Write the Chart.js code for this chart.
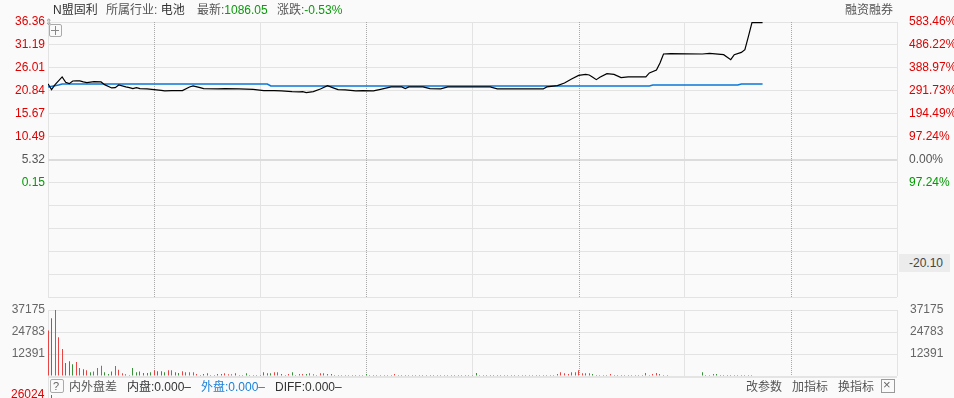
<!DOCTYPE html>
<html><head><meta charset="utf-8">
<script src="https://cdn.jsdelivr.net/npm/chart.js@4/dist/chart.umd.min.js"></script>
<style>
html,body{margin:0;padding:0;background:#fafafa;}
#wrap{position:relative;width:954px;height:398px;overflow:hidden;background:#fafafa;font-family:"Liberation Sans",Arial,"Noto Sans CJK SC",sans-serif;font-size:12px;color:#555;}
canvas{position:absolute;left:0;top:0;}
.t{position:absolute;white-space:nowrap;line-height:14px;}
</style></head><body>
<div id="wrap">
<canvas id="pc" width="954" height="398" style="width:954px;height:398px"></canvas>
<canvas id="vc" width="954" height="398" style="width:954px;height:398px"></canvas>

<div class="t" style="left:53px;top:3px;color:#333">N盟固利</div>
<div class="t" style="left:106px;top:3px;color:#555">所属行业: <span style="color:#333">电池</span></div>
<div class="t" style="left:197px;top:3px;color:#555">最新:<span style="color:#0a9a0a">1086.05</span></div>
<div class="t" style="left:277px;top:3px;color:#555">涨跌:<span style="color:#0a9a0a">-0.53%</span></div>
<div class="t" style="left:845px;top:3px;color:#555">融资融券</div>

<div class="t" style="left:45px;top:15px;font-size:9px;color:#999">⇕</div>
<div style="position:absolute;left:49px;top:24px;width:11px;height:11px;border:1px solid #aaa;border-radius:2px;background:#fafafa"></div>
<div style="position:absolute;left:51px;top:30px;width:8px;height:1px;background:#888"></div>
<div style="position:absolute;left:55px;top:26px;width:1px;height:9px;background:#888"></div>

<div style="position:absolute;left:899px;top:254px;width:51px;height:18px;background:#ececec"></div>
<div class="t" style="left:909px;top:256px;color:#444">-20.10</div>

<div style="position:absolute;left:48px;top:376px;width:849px;height:2px;background:#e4e4e4"></div>
<div style="position:absolute;left:48px;top:378px;width:1px;height:20px;background:#e2e2e2"></div>
<div style="position:absolute;left:50px;top:379px;width:12px;height:12px;border:1px solid #aaa;border-radius:2px"></div>
<div class="t" style="left:53px;top:379px;color:#666;font-size:11px">?</div>
<div class="t" style="left:69px;top:380px;color:#555">内外盘差</div>
<div class="t" style="left:127px;top:380px;color:#333">内盘:0.000–</div>
<div class="t" style="left:201px;top:380px;color:#1a7fd8">外盘:0.000–</div>
<div class="t" style="left:275px;top:380px;color:#333">DIFF:0.000–</div>
<div class="t" style="left:746px;top:380px;color:#555">改参数</div>
<div class="t" style="left:792px;top:380px;color:#555">加指标</div>
<div class="t" style="left:838px;top:380px;color:#555">换指标</div>
<div style="position:absolute;left:881px;top:379px;width:12px;height:12px;border:1px solid #999"></div>
<div class="t" style="left:883px;top:378px;color:#666;font-size:13px">×</div>
<div class="t" style="left:11px;top:387px;color:#e00000">26024</div>
<div style="position:absolute;left:51px;top:395px;width:1px;height:3px;background:#1a7fd8"></div>
</div>
<script>
// ---- data ----
const timeTicks = [0,30,60,90,120,150,180,210,240];
const priceGrid = [36.36,31.19,26.01,20.84,15.67,10.49,5.32,0.15,-5.02,-10.19,-15.37,-20.54,-25.71];
const priceLabels = ['36.36','31.19','26.01','20.84','15.67','10.49','5.32','0.15'];
const pctLabels = ['583.46%','486.22%','388.97%','291.73%','194.49%','97.24%','0.00%','97.24%'];
const volGrid = [0,12391,24783,37175];
const volLabels = ['','12391','24783','37175'];

const priceMin = [0,1,2,4,5,6,7,8,9,10,11,13,15,16,18,19,20,22,23,24,25,26,28,30,32,33,35,38,40,41,43,44,48,50,54,58,61,64,66,69,71,72,73,75,77,79,81,82,84,87,89,92,94,97,100,101,102,106,108,111,113,125,127,140,141,144,146,148,150,152,153,154,155,156,158,160,162,164,169,170,172,173,174,176,185,187,191,193,194,196,197,198,199,202];
const priceVal = [22.38,21.09,22.22,23.96,22.74,22.45,23.05,23.10,23.05,22.83,22.67,22.90,22.83,22.22,21.48,21.55,22.15,21.70,21.55,21.32,21.55,21.32,21.25,21.09,20.94,20.80,20.87,20.87,21.70,21.93,21.55,21.32,21.25,21.32,21.25,21.16,20.87,20.87,20.80,20.64,20.58,20.64,20.42,20.64,21.25,22.00,21.39,21.09,21.03,20.80,20.87,20.80,21.16,21.70,21.70,21.32,21.70,21.70,21.32,21.25,21.70,21.70,21.25,21.25,21.70,22.00,22.60,23.51,24.32,24.54,24.40,23.90,23.35,23.87,24.70,24.54,23.80,23.96,23.96,24.86,25.53,27.11,29.14,29.21,29.14,29.27,28.98,27.86,28.98,29.50,30.11,33.11,36.20,36.20];

const avgMin = [0,3,4,62,63,170,171,195,196,202];
const avgVal = [21.70,22.15,22.38,22.38,21.93,21.93,22.15,22.15,22.38,22.38];

const vol = [
25650,32560,37175,21790,15270,7380,8360,6630,7900,4440,
3860,3280,2120,2510,4440,5790,2120,1160,2510,5600,
3470,1540,960,580,4440,2120,2510,1740,1740,2120,
3280,2700,2700,2120,3280,3280,2120,1740,2700,2120,
2120,2120,1160,580,1160,1540,580,580,1160,1160,
1540,960,960,1540,580,580,1540,580,580,580,
580,2120,1540,1540,2120,2120,1160,580,1160,2120,
580,1160,1160,1160,1540,960,580,1540,1540,1160,
1160,580,580,580,580,580,580,580,580,580,
1160,580,580,580,580,580,580,580,1160,580,
580,580,580,580,580,580,580,580,580,580,
580,580,580,580,580,580,580,580,580,580,
580,1740,580,580,580,580,580,580,580,580,
580,580,580,580,580,580,580,580,580,580,
580,580,580,580,1160,2120,1540,1160,2120,2120,
3280,1540,1540,1540,1160,580,580,580,580,1160,
580,580,580,580,580,580,580,580,580,1740,
580,1160,1740,1160,580,580,0,0,0,0,
0,0,0,0,0,2120,580,580,1160,1160,
580,580,580,580,580,580,580,580,580,580,
0,0,0];
const volUp = [
1,0,1,1,1,0,0,0,1,1,
0,1,0,1,1,1,0,0,0,1,
1,1,0,0,0,0,0,0,0,0,
1,0,0,0,1,1,0,0,1,1,
1,1,1,0,0,0,0,0,0,0,
1,1,1,0,0,0,0,0,0,0,
0,0,0,0,1,1,0,0,1,0,
1,1,1,0,1,1,1,1,1,1,
0,0,0,1,1,1,0,0,1,1,
0,0,0,1,1,1,1,1,1,0,
0,0,1,1,1,0,0,1,0,0,
1,1,1,1,1,0,0,1,0,0,
1,0,1,1,0,0,0,0,0,1,
1,1,0,1,1,1,1,1,1,1,
1,1,1,1,1,1,1,1,1,1,
1,1,1,1,0,0,1,1,1,1,
0,0,0,1,0,1,1,1,1,1,
1,1,1,1,1,1,0,0,0,0,
0,0,0,0,0,0,0,1,1,0,
0,0,0,0,1,1,1,1,1,1,
0,0,0];

// ---- styles ----
const RED='#e00000', GREEN='#009a00', GRAY='#555';
const GRID='#e3e3e3';
const FONT={family:'"Liberation Sans", Arial, sans-serif', size:12};
const labelColor = i => i < 6 ? RED : (i === 6 ? GRAY : GREEN);

const dotPlugin = {
  id:'dots',
  beforeDatasetsDraw(chart){
    const {ctx, chartArea:a, scales:{x}} = chart;
    ctx.save();
    ctx.strokeStyle='#a8a8a8'; ctx.lineWidth=1; ctx.setLineDash([1,1]);
    timeTicks.filter(v => v % 60 === 30).forEach(v => {
      const px = Math.round(x.getPixelForValue(v)) + 0.5;
      ctx.beginPath(); ctx.moveTo(px, a.top); ctx.lineTo(px, a.bottom); ctx.stroke();
    });
    ctx.restore();
  }
};

function xScale(){
  return {
    type:'linear', min:0, max:240, offset:false,
    afterBuildTicks: s => { s.ticks = timeTicks.map(v => ({value:v})); },
    afterFit: s => { s.height = 0; },
    ticks:{display:false},
    grid:{offset:false, drawTicks:false, color: c => (c.tick && c.tick.value % 60 === 30) ? 'rgba(0,0,0,0)' : GRID},
    border:{display:false}
  };
}

new Chart(document.getElementById('pc'), {
  type:'line',
  data:{datasets:[
    {data: priceMin.map((m,i)=>({x:m, y:priceVal[i]})), borderColor:'#000', borderWidth:1.2, pointRadius:0, tension:0, order:1},
    {data: avgMin.map((m,i)=>({x:m, y:avgVal[i]})), borderColor:'#0a78d7', borderWidth:1.6, pointRadius:0, tension:0, order:2}
  ]},
  options:{
    responsive:false, animation:false, events:[],
    layout:{padding:{top:22, bottom:101, left:0, right:0}},
    plugins:{legend:{display:false}, tooltip:{enabled:false}},
    scales:{
      x: xScale(),
      y:{
        position:'left', min:-25.71, max:36.36,
        afterBuildTicks: s => { s.ticks = priceGrid.map(v => ({value:v})); },
        afterFit: s => { s.width = 48; },
        ticks:{autoSkip:false, padding:3, font:FONT,
          color: c => labelColor(priceGrid.indexOf(c.tick.value)),
          callback: v => priceLabels[priceGrid.indexOf(v)] ?? ''},
        grid:{drawTicks:false,
          color: c => (c.tick && c.tick.value === 5.32) ? '#dcdcdc' : GRID,
          lineWidth: c => (c.tick && c.tick.value === 5.32) ? 2 : 1},
        border:{display:false}
      },
      y2:{
        position:'right', min:-25.71, max:36.36,
        afterBuildTicks: s => { s.ticks = priceGrid.map(v => ({value:v})); },
        afterFit: s => { s.width = 57; },
        ticks:{autoSkip:false, padding:4, font:FONT,
          color: c => labelColor(priceGrid.indexOf(c.tick.value)),
          callback: v => pctLabels[priceGrid.indexOf(v)] ?? ''},
        grid:{display:false},
        border:{display:false}
      }
    }
  },
  plugins:[dotPlugin]
});

const snapBars = {
  id:'snapBars',
  beforeDatasetsDraw(chart){
    chart.getDatasetMeta(0).data.forEach(el => { el.x = Math.floor(el.x) + 0.5; });
  }
};

new Chart(document.getElementById('vc'), {
  type:'bar',
  data:{datasets:[{
    data: vol.map((v,i)=>({x:i, y:v})),
    backgroundColor: volUp.map(u => u ? '#e84444' : '#3a8f3a'),
    borderWidth:0, barThickness:1, inflateAmount:0
  }]},
  options:{
    responsive:false, animation:false, events:[],
    layout:{padding:{top:310, bottom:22, left:0, right:0}},
    plugins:{legend:{display:false}, tooltip:{enabled:false}},
    scales:{
      x: xScale(),
      y:{
        position:'left', min:0, max:37175,
        afterBuildTicks: s => { s.ticks = volGrid.map(v => ({value:v})); },
        afterFit: s => { s.width = 48; },
        ticks:{autoSkip:false, padding:3, font:FONT, color:'#666',
          callback: v => volLabels[volGrid.indexOf(v)] ?? ''},
        grid:{drawTicks:false, color:GRID},
        border:{display:false}
      },
      y2:{
        position:'right', min:0, max:37175,
        afterBuildTicks: s => { s.ticks = volGrid.map(v => ({value:v})); },
        afterFit: s => { s.width = 57; },
        ticks:{autoSkip:false, padding:5, font:FONT, color:'#666',
          callback: v => volLabels[volGrid.indexOf(v)] ?? ''},
        grid:{display:false},
        border:{display:false}
      }
    }
  },
  plugins:[dotPlugin, snapBars]
});
</script>
</body></html>
